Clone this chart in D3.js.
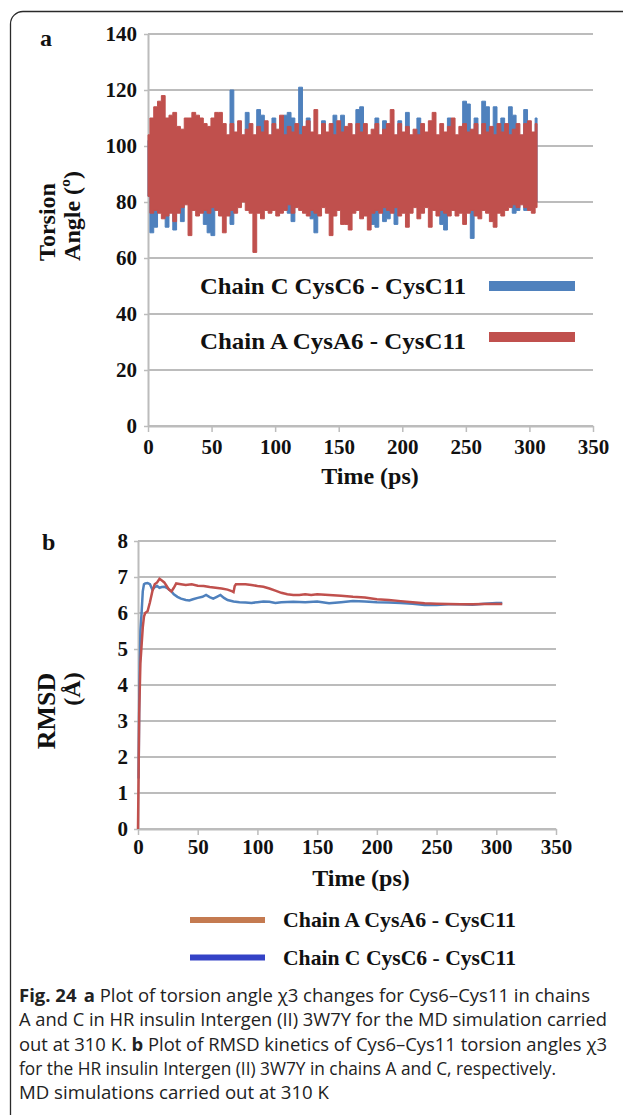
<!DOCTYPE html>
<html>
<head>
<meta charset="utf-8">
<script src="https://cdn.jsdelivr.net/npm/d3@7"></script>
<style>
  body { margin: 0; background: #fff; }
  svg text { font-family: "Liberation Serif", "Times New Roman", serif; font-weight: bold; fill: #111; }
  svg .caption text { font-family: "Open Sans", "Noto Sans", sans-serif; font-weight: normal; fill: #222; }
</style>
</head>
<body>
<div id="fig"></div>
<script>
/*
** Fig. 24 - torsion angle (a) and RMSD (b) of Cys6-Cys11, chains A and C
*/

let torsionTime = [0, 3, 6, 9, 12, 15, 18, 21, 24, 27, 30, 33, 36, 39, 42, 45, 48, 51, 54, 57,
  60, 63, 66, 69, 72, 75, 78, 81, 84, 87, 90, 93, 96, 99, 102, 105, 108, 111, 114, 117,
  120, 123, 126, 129, 132, 135, 138, 141, 144, 147, 150, 153, 156, 159, 162, 165, 168, 171, 174, 177,
  180, 183, 186, 189, 192, 195, 198, 201, 204, 207, 210, 213, 216, 219, 222, 225, 228, 231, 234, 237,
  240, 243, 246, 249, 252, 255, 258, 261, 264, 267, 270, 273, 276, 279, 282, 285, 288, 291, 294, 297,
  300, 303, 306];

// Chain A (red) upper / lower peaks
let chainAHigh = [104, 110, 114, 116, 118, 110, 111, 112, 107, 106,
  110, 110, 112, 111, 110, 108, 107, 110, 112, 112,
  108, 104, 108, 105, 109, 104, 106, 108, 104, 107,
  105, 109, 104, 108, 106, 111, 104, 107, 105, 108,
  104, 107, 109, 105, 113, 104, 108, 105, 108, 104,
  109, 105, 107, 108, 104, 108, 105, 108, 104, 106,
  108, 104, 106, 108, 113, 104, 108, 105, 107, 104,
  106, 104, 108, 105, 109, 112, 104, 108, 105, 107,
  110, 104, 107, 108, 105, 106, 108, 104, 108, 105,
  107, 104, 108, 105, 108, 104, 106, 108, 104, 108,
  109, 105, 108];
let chainALow = [82, 76, 77, 76, 74, 75, 76, 73, 76, 78,
  79, 68, 77, 75, 76, 77, 76, 78, 77, 75,
  69, 75, 77, 76, 78, 80, 77, 76, 62, 76,
  74, 77, 76, 77, 75, 76, 77, 79, 76, 78,
  77, 76, 75, 77, 76, 75, 78, 76, 68, 75,
  77, 72, 72, 70, 76, 77, 74, 75, 70, 76,
  77, 76, 78, 77, 76, 78, 75, 76, 71, 76,
  78, 74, 76, 78, 71, 77, 75, 77, 76, 75,
  77, 75, 76, 72, 76, 77, 75, 74, 77, 76,
  73, 71, 76, 75, 77, 78, 79, 78, 79, 78,
  77, 76, 78];

// Chain C (blue) upper / lower peaks (mostly hidden behind chain A)
let chainCHigh = [102, 103, 102, 101, 103, 102, 101, 103, 102, 101,
  103, 102, 101, 103, 102, 101, 103, 102, 101, 103,
  102, 101, 120, 102, 103, 101, 112, 102, 101, 113,
  111, 102, 101, 110, 103, 101, 111, 112, 110, 102,
  121, 101, 110, 102, 103, 101, 109, 102, 103, 111,
  101, 111, 102, 103, 101, 113, 114, 102, 101, 103,
  110, 101, 109, 103, 102, 101, 109, 102, 112, 101,
  103, 110, 102, 101, 103, 102, 101, 103, 102, 110,
  101, 102, 103, 116, 115, 102, 110, 101, 116, 114,
  102, 114, 101, 110, 102, 114, 111, 101, 103, 113,
  102, 101, 110];
let chainCLow = [82, 69, 71, 80, 81, 71, 80, 70, 81, 73,
  80, 81, 80, 81, 80, 72, 69, 68, 81, 80,
  81, 80, 72, 81, 80, 81, 80, 81, 80, 81,
  80, 81, 80, 81, 80, 81, 80, 76, 73, 81,
  80, 81, 80, 74, 69, 81, 80, 81, 80, 81,
  80, 81, 80, 81, 80, 81, 80, 81, 80, 72,
  71, 81, 73, 74, 80, 72, 81, 80, 81, 80,
  81, 80, 81, 80, 81, 80, 81, 72, 70, 81,
  80, 81, 80, 81, 80, 67, 81, 80, 81, 80,
  81, 80, 81, 80, 81, 80, 76, 77, 81, 77,
  80, 81, 80];

// Panel b: RMSD (Å)
let rmsdATime = [0, 0.5, 1, 2, 3, 4, 5, 6, 8, 10, 12, 14, 16, 18, 20, 22, 24, 26, 28, 30,
  32, 36, 40, 45, 50, 55, 60, 65, 70, 75, 79, 80, 81, 82, 85, 90, 95, 100, 105, 110,
  115, 120, 125, 130, 135, 140, 145, 150, 160, 170, 180, 190, 200, 210, 220, 230, 240, 250, 260, 270,
  280, 290, 300, 305];
let rmsdA = [0, 1.5, 3.2, 4.6, 5.1, 5.6, 5.9, 6.0, 6.05, 6.3, 6.6, 6.8, 6.85, 6.95, 6.9, 6.85, 6.75, 6.65, 6.6, 6.7,
  6.82, 6.8, 6.78, 6.8, 6.76, 6.75, 6.72, 6.7, 6.68, 6.65, 6.6, 6.58, 6.75, 6.8, 6.8, 6.8, 6.78, 6.75, 6.73, 6.68,
  6.62, 6.56, 6.52, 6.5, 6.5, 6.52, 6.5, 6.52, 6.5, 6.48, 6.45, 6.43, 6.38, 6.36, 6.33, 6.3, 6.27, 6.26, 6.25, 6.24,
  6.24, 6.25, 6.25, 6.25];
let rmsdCTime = [0.5, 1, 1.5, 2, 3, 4, 5, 6, 8, 10, 12, 14, 16, 18, 20, 22, 24, 26, 28, 30,
  33, 36, 40, 43, 46, 50, 54, 57, 60, 63, 66, 69, 72, 75, 80, 85, 90, 95, 100, 105,
  110, 115, 120, 130, 140, 150, 160, 170, 180, 190, 200, 210, 220, 230, 240, 250, 260, 270, 280, 290,
  300, 305];
let rmsdC = [1.4, 3.5, 4.5, 5.5, 6.0, 6.6, 6.8, 6.82, 6.83, 6.8, 6.65, 6.72, 6.75, 6.7, 6.72, 6.73, 6.7, 6.65, 6.6, 6.52,
  6.45, 6.4, 6.36, 6.35, 6.38, 6.42, 6.45, 6.5, 6.44, 6.4, 6.45, 6.5, 6.42, 6.36, 6.32, 6.3, 6.29, 6.28, 6.3, 6.32,
  6.31, 6.28, 6.3, 6.31, 6.3, 6.32, 6.27, 6.3, 6.33, 6.32, 6.3, 6.29, 6.28, 6.26, 6.22, 6.22, 6.24, 6.24, 6.23, 6.26,
  6.28, 6.28];

// tick labels
let timeTicks = [0, 50, 100, 150, 200, 250, 300, 350];
let angleTicks = [0, 20, 40, 60, 80, 100, 120, 140];
let rmsdTicks = [0, 1, 2, 3, 4, 5, 6, 7, 8];

let legendA = ["Chain C CysC6 - CysC11", "Chain A CysA6 - CysC11"];
let legendB = ["Chain A CysA6 - CysC11", "Chain C CysC6 - CysC11"];

let captionLines = [
  [["Fig. 24", true], ["a", true, 7], [" Plot of torsion angle χ3 changes for Cys6–Cys11 in chains", false]],
  [["A and C in HR insulin Intergen (II) 3W7Y for the MD simulation carried", false]],
  [["out at 310 K. ", false], ["b", true], [" Plot of RMSD kinetics of Cys6–Cys11 torsion angles χ3", false]],
  [["for the HR insulin Intergen (II) 3W7Y in chains A and C, respectively.", false]],
  [["MD simulations carried out at 310 K", false]]
];
let captionWidths = [571, 588, 588, 537, 310];

// Colours
let colorBlue = "#4f81bd";
let colorRed = "#c0504d";
let colorGrid = "#bcbcbc";
let legendBrown = "#c47a50";
let legendBlue = "#3442c6";

let width = 623;
let height = 1115;

let svg = d3.select("#fig")
  .append("svg")
  .attr("width", width)
  .attr("height", height);

// frame with rounded top-left corner
svg.append("path")
  .attr("d", "M10.5,1115 V24 A12.5,12.5 0 0 1 23,11.5 H623")
  .attr("fill", "none")
  .attr("stroke", "#2a2a2a")
  .attr("stroke-width", 1.3);

// grid + axes for one panel
function drawAxes(x, y, yTicks, padY, padX) {
  let g = svg.append("g");
  let [x0, x1] = x.range();

  g.selectAll(".grid")
    .data(yTicks)
    .enter().append("line")
    .attr("x1", x0).attr("x2", x1)
    .attr("y1", d => y(d)).attr("y2", d => y(d))
    .attr("stroke", colorGrid)
    .attr("stroke-width", 2);

  let left = g.append("g")
    .attr("transform", `translate(${x0},0)`)
    .call(d3.axisLeft(y).tickValues(yTicks).tickSize(4).tickSizeOuter(0).tickPadding(padY));

  let bottom = g.append("g")
    .attr("transform", `translate(0,${y(0)})`)
    .call(d3.axisBottom(x).tickValues(timeTicks).tickSize(6).tickSizeOuter(0).tickPadding(padX));

  [left, bottom].forEach(a => {
    a.select(".domain").attr("stroke", colorGrid).attr("stroke-width", 2);
    a.selectAll(".tick line").attr("stroke", colorGrid).attr("stroke-width", 1.5);
    a.selectAll(".tick text")
      .attr("font-family", null)
      .attr("font-size", 21)
      .attr("fill", "#111");
  });
  return g;
}

// rotated y-axis title, one line per entry
function yTitle(lines) {
  lines.forEach(l => {
    svg.append("text")
      .attr("transform", `translate(${l.x},${l.y}) rotate(-90)`)
      .attr("text-anchor", "middle")
      .attr("font-size", l.size)
      .text(l.text);
  });
}

// ---------- Panel a ----------
let xA = d3.scaleLinear().domain([0, 350]).range([148, 593]);
let yA = d3.scaleLinear().domain([0, 140]).range([426, 34]);

drawAxes(xA, yA, angleTicks, 7, 7);

function band(high, low) {
  return d3.area()
    .x((d, i) => xA(torsionTime[i]))
    .y0((d, i) => yA(low[i]))
    .y1((d, i) => yA(high[i]))
    .curve(d3.curveStep);
}

// blue under, red on top
[[chainCHigh, chainCLow, colorBlue], [chainAHigh, chainALow, colorRed]].forEach(s => {
  svg.append("path")
    .datum(torsionTime)
    .attr("d", band(s[0], s[1]))
    .attr("fill", s[2])
    .attr("stroke", s[2])
    .attr("stroke-width", 1);
});

svg.append("text").attr("x", 40).attr("y", 46).attr("font-size", 24).text("a");

yTitle([
  { text: "Torsion", x: 55, y: 222, size: 24 },
  { text: "Angle (º)", x: 80, y: 216, size: 24 }
]);

svg.append("text")
  .attr("x", 370).attr("y", 484)
  .attr("text-anchor", "middle")
  .attr("font-size", 24)
  .text("Time (ps)");

// legend inside plot a
legendA.forEach((t, i) => {
  svg.append("text")
    .attr("x", 200).attr("y", 294 + i * 55)
    .attr("font-size", 23)
    .attr("textLength", 266)
    .attr("lengthAdjust", "spacingAndGlyphs")
    .text(t);
  svg.append("line")
    .attr("x1", 489).attr("x2", 575)
    .attr("y1", 286 + i * 51).attr("y2", 286 + i * 51)
    .attr("stroke", i === 0 ? colorBlue : colorRed)
    .attr("stroke-width", 10);
});

// ---------- Panel b ----------
let xB = d3.scaleLinear().domain([0, 350]).range([138, 556]);
let yB = d3.scaleLinear().domain([0, 8]).range([829, 541]);

drawAxes(xB, yB, rmsdTicks, 6, 4);

let rmsdLine = (times) => d3.line()
  .x((d, i) => xB(times[i]))
  .y(d => yB(d));

svg.append("path")
  .datum(rmsdC)
  .attr("d", rmsdLine(rmsdCTime))
  .attr("fill", "none")
  .attr("stroke", colorBlue)
  .attr("stroke-width", 2.5);

svg.append("path")
  .datum(rmsdA)
  .attr("d", rmsdLine(rmsdATime))
  .attr("fill", "none")
  .attr("stroke", colorRed)
  .attr("stroke-width", 2.5);

svg.append("text").attr("x", 42).attr("y", 550).attr("font-size", 24).text("b");

yTitle([
  { text: "RMSD", x: 55, y: 711, size: 26 },
  { text: "(Å)", x: 80, y: 689, size: 24 }
]);

svg.append("text")
  .attr("x", 361).attr("y", 886)
  .attr("text-anchor", "middle")
  .attr("font-size", 24)
  .text("Time (ps)");

// legend below plot b
legendB.forEach((t, i) => {
  let yy = 920 + i * 37.5;
  svg.append("line")
    .attr("x1", 190).attr("x2", 265)
    .attr("y1", yy).attr("y2", yy)
    .attr("stroke", i === 0 ? legendBrown : legendBlue)
    .attr("stroke-width", 6);
  svg.append("text")
    .attr("x", 283).attr("y", yy + 7)
    .attr("font-size", 21)
    .attr("textLength", 233)
    .attr("lengthAdjust", "spacingAndGlyphs")
    .text(t);
});

// ---------- Caption ----------
let caption = svg.append("g").attr("class", "caption");
captionLines.forEach((parts, i) => {
  let t = caption.append("text")
    .attr("x", 19)
    .attr("y", 1002 + i * 24.3)
    .attr("font-size", 18)
    .attr("textLength", captionWidths[i])
    .attr("lengthAdjust", "spacingAndGlyphs");
  parts.forEach(p => {
    t.append("tspan")
      .attr("font-weight", p[1] ? "bold" : "normal")
      .attr("dx", p[2] || null)
      .text(p[0]);
  });
});
</script>
</body>
</html>
